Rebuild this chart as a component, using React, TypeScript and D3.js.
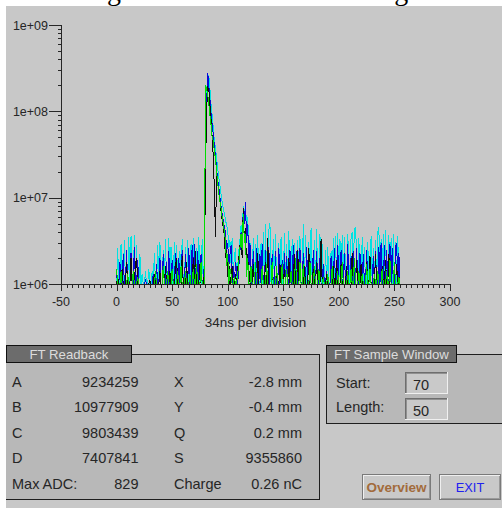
import React, { useEffect, useRef } from 'react';
import * as d3 from 'd3';

// ADC traces, one value per sample (0..255), in units of 1e6
const cyanTrace = [
  0.7, 2.6, 0.7, 0.8, 2.9, 1.0, 0.7, 3.2, 0.7, 2.4, 0.8, 3.5, 0.7, 3.6, 0.8, 0.7,
  3.7, 0.7, 2.8, 0.8, 0.7, 2.2, 0.6, 1.3, 0.6, 0.7, 1.4, 0.6, 0.7, 1.5, 0.6, 0.7,
  1.4, 0.6, 2.3, 0.7, 0.8, 2.8, 0.7, 3.1, 0.7, 0.8, 2.5, 0.7, 3.3, 0.8, 0.7, 3.4,
  0.7, 2.7, 0.7, 0.8, 3.1, 0.7, 2.8, 0.8, 0.7, 2.4, 0.7, 3.3, 0.8, 0.7, 2.7, 0.7,
  3.2, 0.8, 0.7, 2.9, 0.7, 3.4, 0.8, 0.7, 2.6, 0.7, 3.5, 0.8, 0.7, 3.3, 0.8, 2.0,
  50, 170, 250, 260, 180, 120, 90, 65, 45, 38, 28, 22, 17, 14, 11, 9,
  7.5, 6.5, 5.5, 4.8, 4.2, 2.6, 3.2, 1.7, 3.4, 1.4, 2.0, 2.6, 1.1, 1.6, 2.4, 3.2,
  4.8, 3.5, 8.0, 6.0, 8.7, 4.5, 6.0, 2.5,
  3.2, 0.8, 0.7, 3.4, 0.8, 2.9, 0.7, 3.7, 0.8, 0.7, 3.0, 0.7, 4.0, 0.8, 5.0, 0.8,
  0.7, 4.2, 5.1, 0.8, 0.7, 3.3, 0.7, 3.8, 0.8, 0.7, 3.0, 0.7, 3.5, 0.8, 0.7, 3.9,
  0.8, 2.9, 0.7, 4.1, 0.8, 0.7, 3.3, 0.7, 3.0, 0.8, 0.7, 3.2, 0.7, 3.6, 0.8, 0.7,
  5.0, 0.8, 3.7, 0.7, 0.8, 3.1, 0.7, 4.5, 0.8, 0.7, 3.2, 0.7, 4.3, 0.8, 0.7, 3.8,
  0.7, 2.9, 0.7, 0.8, 2.5, 0.7, 2.7, 0.7, 0.8, 2.4, 0.7, 3.4, 0.8, 3.6, 0.7, 3.9,
  0.8, 3.3, 0.7, 3.7, 0.8, 3.5, 1.5, 0.8, 3.8, 1.8, 0.8, 3.6, 4.0, 1.6, 4.2, 4.6,
  2.2, 0.8, 3.4, 0.7, 0.8, 3.5, 0.7, 2.7, 0.8, 0.7, 3.1, 0.8, 0.7, 3.6, 0.7, 2.6,
  0.8, 3.2, 0.7, 3.9, 4.6, 0.8, 3.3, 0.7, 3.8, 0.8, 4.2, 0.8, 0.7, 3.7, 0.8, 3.4,
  0.7, 3.8, 0.8, 3.1, 0.7, 3.6, 0.8, 0.7,
];

const blueTrace = [
  1.3, 0.7, 0.6, 1.8, 0.8, 0.6, 2.2, 0.6, 0.7, 2.5, 0.7, 0.6, 1.0, 2.3, 0.9, 0.6,
  2.7, 0.8, 0.6, 1.9, 0.6, 0.7, 0.6, 0.9, 0.5, 0.6, 1.1, 0.7, 0.6, 0.6, 0.8, 0.6,
  0.6, 1.3, 0.7, 0.6, 1.7, 0.8, 0.6, 2.0, 0.6, 0.7, 2.2, 0.8, 0.6, 1.8, 0.6, 2.4,
  0.9, 0.6, 1.9, 0.7, 0.6, 2.3, 0.8, 0.6, 2.0, 0.6, 0.9, 2.5, 0.7, 0.6, 2.2, 0.8,
  0.6, 2.6, 0.9, 0.6, 2.8, 0.6, 2.9, 0.8, 0.6, 2.4, 0.7, 0.6, 2.2, 0.9, 0.8, 1.8,
  30, 120, 280, 200, 140, 95, 70, 55, 40, 30, 22, 16, 13, 10, 8, 6.5,
  5.5, 4.5, 4.0, 2.5, 3.0, 1.6, 2.2, 2.8, 1.0, 1.6, 0.8, 1.8, 1.4, 0.7, 1.6, 2.4,
  4.0, 2.6, 7.5, 5.0, 9.0, 3.0, 5.0, 1.5,
  3.0, 1.0, 0.6, 2.4, 0.8, 0.6, 2.6, 0.7, 0.6, 2.2, 0.6, 2.9, 0.8, 0.6, 2.5, 0.6,
  0.7, 2.7, 0.9, 0.6, 2.2, 0.7, 0.6, 2.4, 0.8, 0.6, 2.6, 0.8, 0.6, 1.9, 0.6, 2.3,
  0.6, 2.1, 0.6, 0.8, 2.5, 0.8, 0.6, 2.8, 0.8, 0.6, 2.4, 0.7, 0.6, 2.6, 0.8, 0.6,
  2.3, 0.6, 0.6, 2.7, 0.9, 0.6, 1.9, 0.8, 0.6, 2.5, 0.6, 0.7, 2.4, 0.8, 0.6, 2.0,
  0.6, 0.7, 1.7, 0.6, 0.6, 1.4, 0.7, 0.5, 0.6, 2.1, 0.8, 0.6, 2.6, 0.7, 0.6, 2.8,
  0.9, 0.6, 2.5, 0.8, 0.6, 2.3, 0.7, 0.6, 2.9, 0.8, 0.6, 2.1, 0.6, 2.4, 0.9, 0.6,
  2.6, 0.6, 0.7, 2.3, 0.6, 0.9, 2.2, 0.6, 0.6, 2.5, 0.8, 0.6, 2.0, 0.6, 0.8, 2.1,
  0.6, 2.4, 0.8, 0.6, 2.7, 0.6, 3.0, 0.9, 0.6, 2.8, 0.6, 2.5, 0.8, 0.6, 2.9, 0.6,
  2.6, 0.8, 0.6, 2.7, 3.0, 0.6, 2.3, 0.9,
];

const blackTrace = [
  0.6, 1.2, 0.5, 0.7, 0.6, 1.5, 0.6, 0.5, 0.7, 1.8, 0.6, 0.5, 0.8, 2.0, 0.6, 0.5,
  0.7, 1.7, 2.0, 0.5, 0.6, 0.8, 0.5, 0.7, 0.5, 0.6, 0.5, 0.7, 0.8, 0.5, 1.1, 0.6,
  0.5, 0.6, 1.3, 0.7, 0.6, 0.5, 0.6, 1.4, 0.5, 0.7, 0.8, 0.6, 1.6, 0.6, 0.5, 0.7,
  1.4, 0.5, 0.6, 0.8, 0.6, 1.6, 2.0, 0.6, 0.5, 0.7, 0.7, 2.1, 0.6, 0.5, 0.8, 1.8,
  0.6, 0.5, 0.9, 0.6, 0.6, 2.0, 0.6, 2.4, 0.7, 0.5, 0.6, 1.7, 0.8, 0.5, 0.6, 1.3,
  20, 100, 190, 180, 120, 80, 50, 30, 12, 3.5, 20, 15, 11, 9, 7, 5.5,
  4.5, 3.6, 2.0, 2.5, 1.2, 1.8, 0.8, 1.2, 1.6, 0.7, 0.9, 1.3, 0.6, 1.5, 2.0, 2.8,
  3.5, 2.0, 7.5, 3.0, 4.5, 1.4, 2.2, 0.8,
  1.4, 0.6, 0.7, 1.7, 0.8, 0.5, 0.6, 2.3, 0.8, 0.6, 0.6, 1.5, 0.5, 0.7, 1.8, 0.8,
  3.4, 0.6, 0.5, 0.7, 1.6, 0.8, 0.5, 0.6, 1.4, 0.6, 0.7, 1.7, 0.8, 0.5, 0.6, 1.5,
  0.8, 0.5, 0.6, 2.0, 0.9, 0.7, 0.5, 0.8, 2.2, 0.6, 0.5, 2.5, 0.8, 0.6, 0.9, 0.5,
  0.7, 1.6, 0.5, 0.8, 0.6, 2.6, 0.8, 0.5, 0.6, 1.5, 0.6, 0.7, 1.8, 0.8, 0.5, 0.8,
  3.3, 0.9, 0.7, 0.5, 0.6, 1.3, 0.6, 0.5, 0.8, 0.6, 0.7, 1.6, 0.5, 0.8, 1.9, 0.6,
  0.5, 0.8, 1.7, 0.6, 0.8, 0.5, 0.7, 1.6, 0.6, 0.8, 0.5, 0.9, 2.3, 0.7, 0.6, 0.8,
  1.9, 0.8, 0.5, 0.9, 1.7, 0.6, 0.5, 0.6, 0.8, 1.8, 0.7, 0.5, 2.1, 0.8, 0.6, 0.8,
  0.5, 2.2, 0.7, 0.6, 0.9, 0.5, 0.8, 1.6, 0.6, 0.8, 1.9, 0.7, 0.5, 2.2, 0.9, 0.6,
  0.8, 0.6, 1.0, 0.7, 1.7, 0.8, 0.6, 1.2,
];

const greenTrace = [
  1.5, 0.6, 0.5, 0.5, 1.4, 0.7, 0.6, 0.5, 0.8, 0.5, 1.3, 0.6, 0.5, 0.6, 0.9, 1.4,
  0.6, 0.5, 0.5, 1.2, 0.7, 0.6, 0.5, 0.6, 0.5, 0.9, 0.6, 0.5, 0.6, 0.5, 0.9, 0.6,
  0.6, 0.5, 0.7, 1.4, 0.5, 0.6, 0.7, 0.5, 0.6, 1.0, 1.6, 0.6, 0.5, 0.6, 1.4, 0.7,
  0.6, 0.6, 1.5, 0.7, 0.5, 0.6, 0.6, 1.4, 0.6, 0.5, 1.6, 0.7, 0.5, 0.6, 1.4, 0.8,
  0.6, 0.6, 1.3, 0.5, 0.7, 1.5, 0.6, 0.5, 1.7, 0.8, 0.5, 0.6, 1.8, 0.7, 0.7, 0.6,
  200, 180, 160, 120, 90, 70, 50, 45, 35, 28, 20, 15, 11, 9, 7.5, 6,
  5, 4, 3.2, 1.6, 2.2, 1.0, 1.5, 1.3, 0.7, 0.9, 1.2, 0.6, 0.8, 1.3, 1.8, 2.6,
  3.8, 2.5, 6.5, 3.0, 3.8, 1.2, 2.0, 0.7,
  0.6, 1.6, 0.6, 0.5, 0.8, 1.8, 0.6, 0.5, 0.7, 0.6, 0.6, 1.6, 0.8, 0.5, 0.6, 1.7,
  0.8, 0.5, 0.6, 0.6, 1.8, 0.7, 0.5, 0.6, 1.6, 0.8, 0.5, 0.6, 0.6, 1.7, 0.7, 0.5,
  0.6, 1.5, 0.8, 0.5, 0.7, 1.4, 0.6, 0.6, 0.9, 2.0, 0.7, 0.5, 0.8, 1.8, 0.6, 0.5,
  1.7, 0.7, 0.5, 0.9, 0.6, 0.6, 1.8, 0.8, 0.5, 0.6, 1.6, 0.8, 0.5, 0.6, 1.5, 0.7,
  0.6, 0.6, 1.2, 0.5, 0.6, 0.5, 1.3, 0.6, 0.5, 0.8, 1.6, 0.7, 0.5, 0.6, 0.6, 1.4,
  0.8, 0.5, 0.7, 1.8, 0.9, 0.6, 0.5, 0.8, 1.4, 0.6, 0.7, 1.5, 0.5, 0.8, 2.0, 0.9,
  0.6, 0.6, 1.4, 0.5, 0.7, 1.3, 0.6, 0.5, 0.8, 1.7, 0.6, 0.5, 1.5, 0.7, 0.6, 0.6,
  1.3, 0.6, 0.6, 1.4, 0.8, 0.5, 0.7, 1.5, 0.9, 0.6, 0.6, 1.4, 0.5, 0.8, 1.9, 0.9,
  0.6, 0.7, 1.8, 0.9, 0.6, 0.6, 1.2, 0.6,
];

const xTicks = [-50, 0, 50, 100, 150, 200, 250, 300];
const yTicks = [1e6, 1e7, 1e8, 1e9];
const xLabel = '34ns per division';

const readbackNames = ['A', 'B', 'C', 'D', 'Max ADC:'];
const readbackValues = ['9234259', '10977909', '9803439', '7407841', '829'];
const positionNames = ['X', 'Y', 'Q', 'S', 'Charge'];
const positionValues = ['-2.8 mm', '-0.4 mm', '0.2 mm', '9355860', '0.26 nC'];
const windowNames = ['Start:', 'Length:'];
const windowValues = ['70', '50'];

const App = () => {
  const svgRef = useRef(null);

  useEffect(() => {
    const width = 502;
    const height = 508;
    const sans = "'Liberation Sans', Arial, sans-serif";
    const ink = '#262626';
    const svg = d3.select(svgRef.current);
    svg.selectAll('*').remove();

    // page bits: cut-off caption above the panel, then the grey panel
    svg.append('rect').attr('width', width).attr('height', height).attr('fill', '#fff');
    svg.append('text')
      .attr('x', 12).attr('y', -0.5)
      .attr('font-family', "'Liberation Serif', serif")
      .attr('font-size', 28)
      .text('ical charge of FT was shown as Figure 4.');
    svg.append('rect')
      .attr('x', 6).attr('y', 6).attr('width', width - 6).attr('height', height - 6)
      .attr('fill', '#c8c8c8');

    const x = d3.scaleLinear().domain([-50, 300]).range([61, 450]);
    const y = d3.scaleLog().domain([1e6, 1e9]).range([284, 25]).clamp(true);

    // traces
    const line = d3.line<number>()
      .x((d, i) => x(i))
      .y((d) => y(d * 1e6));
    const traces: [number[], string][] = [
      [cyanTrace, '#00e2e2'],
      [blueTrace, '#0808d8'],
      [blackTrace, '#101010'],
      [greenTrace, '#00dc00'],
    ];
    traces.forEach(([vals, color]) => {
      svg.append('path')
        .attr('d', line(vals))
        .attr('fill', 'none')
        .attr('stroke', color)
        .attr('stroke-width', 1)
        .attr('shape-rendering', 'crispEdges');
    });

    // axes
    const ax = svg.append('g').attr('stroke', ink).attr('shape-rendering', 'crispEdges');
    ax.append('line').attr('x1', 61.5).attr('x2', 61.5).attr('y1', 25).attr('y2', 284.5);
    ax.append('line').attr('x1', 61).attr('x2', 450.5).attr('y1', 284.5).attr('y2', 284.5);

    d3.range(-50, 301, 5).forEach((v) => {
      const major = v % 50 === 0;
      ax.append('line')
        .attr('x1', Math.round(x(v)) + 0.5).attr('x2', Math.round(x(v)) + 0.5)
        .attr('y1', 284).attr('y2', major ? 291 : 288);
    });
    yTicks.forEach((d, k) => {
      ax.append('line')
        .attr('x1', 49).attr('x2', 61).attr('y1', Math.round(y(d)) + 0.5).attr('y2', Math.round(y(d)) + 0.5);
      if (k < yTicks.length - 1) {
        d3.range(2, 10).forEach((m) => {
          const yy = Math.round(y(d * m)) + 0.5;
          ax.append('line').attr('x1', 57.5).attr('x2', 61).attr('y1', yy).attr('y2', yy);
        });
      }
    });

    svg.append('g').selectAll('text').data(xTicks).enter().append('text')
      .attr('x', (d) => x(d)).attr('y', 305.5)
      .attr('text-anchor', 'middle')
      .attr('font-family', sans).attr('font-size', 12.5).attr('fill', ink)
      .text((d) => d);
    svg.append('g').selectAll('text').data(yTicks).enter().append('text')
      .attr('x', 48).attr('y', (d) => y(d) + 4.5)
      .attr('text-anchor', 'end')
      .attr('font-family', sans).attr('font-size', 12.5).attr('fill', ink)
      .text((d) => '1e+0' + Math.round(Math.log10(d)));
    svg.append('text')
      .attr('x', (x.range()[0] + x.range()[1]) / 2).attr('y', 327)
      .attr('text-anchor', 'middle')
      .attr('font-family', sans).attr('font-size', 13.5).attr('fill', ink)
      .text(xLabel);

    // framed group box with a dark title tab
    const groupBox = (x0, x1, y1, tabW, title, rightEdge) => {
      const g = svg.append('g').attr('shape-rendering', 'crispEdges');
      g.append('rect').attr('x', x0).attr('y', 354.5).attr('width', x1 - x0).attr('height', y1 - 354.5)
        .attr('fill', '#b8b8b8');
      const edge = g.append('g').attr('stroke', '#1e1e1e');
      edge.append('line').attr('x1', x0).attr('x2', x1).attr('y1', 354.5).attr('y2', 354.5);
      edge.append('line').attr('x1', x0).attr('x2', x1).attr('y1', y1).attr('y2', y1);
      if (rightEdge) edge.append('line').attr('x1', x1).attr('x2', x1).attr('y1', 354.5).attr('y2', y1);
      if (x0 > 6) edge.append('line').attr('x1', x0 + 0.5).attr('x2', x0 + 0.5).attr('y1', 354.5).attr('y2', y1);
      g.append('rect').attr('x', x0 + 0.5).attr('y', 345.5).attr('width', tabW).attr('height', 17)
        .attr('fill', '#6c6c6c').attr('stroke', '#111');
      svg.append('text')
        .attr('x', x0 + 0.5 + tabW / 2).attr('y', 358.5)
        .attr('text-anchor', 'middle')
        .attr('font-family', sans).attr('font-size', 13.2).attr('fill', '#dcdcdc')
        .text(title);
    };

    groupBox(6, 319.5, 499.5, 125, 'FT Readback', true);
    groupBox(326, 502, 423.5, 130, 'FT Sample Window', false);

    const txt = (tx, ty, s, anchor = 'start', fill = ink, size = 14.5, weight = 'normal') =>
      svg.append('text')
        .attr('x', tx).attr('y', ty)
        .attr('text-anchor', anchor)
        .attr('font-family', sans).attr('font-size', size).attr('font-weight', weight)
        .attr('fill', fill)
        .text(s);

    readbackNames.forEach((n, i) => {
      const ty = 387 + i * 25.4;
      txt(12, ty, n);
      txt(138.5, ty, readbackValues[i], 'end');
      txt(174, ty, positionNames[i]);
      txt(302, ty, positionValues[i], 'end');
    });

    // sample window inputs
    windowNames.forEach((n, i) => {
      const top = 372 + i * 25.5;
      txt(336, 388 + i * 24, n);
      const f = svg.append('g').attr('shape-rendering', 'crispEdges');
      f.append('rect').attr('x', 405).attr('y', top).attr('width', 43).attr('height', 22).attr('fill', '#c9c9c9');
      f.append('path').attr('d', `M405.5,${top + 22} V${top + 0.5} H448`).attr('fill', 'none').attr('stroke', '#6e6e6e').attr('stroke-width', 1);
      f.append('path').attr('d', `M406.5,${top + 21} V${top + 1.5} H447`).attr('fill', 'none').attr('stroke', '#909090').attr('stroke-width', 1);
      f.append('path').attr('d', `M405,${top + 21.5} H447.5 V${top}`).attr('fill', 'none').attr('stroke', '#f0f0f0').attr('stroke-width', 1);
      txt(413, top + 18, windowValues[i]);
    });

    // buttons
    const button = (bx, bw, label, color, weight, size) => {
      const b = svg.append('g').attr('shape-rendering', 'crispEdges');
      b.append('rect').attr('x', bx + 0.5).attr('y', 474.5).attr('width', bw).attr('height', 25)
        .attr('fill', '#c9c9c9').attr('stroke', '#7a7a7a');
      b.append('path').attr('d', `M${bx + 1.5},${498.5} V475.5 H${bx + bw - 0.5}`).attr('fill', 'none').attr('stroke', '#efefef');
      b.append('path').attr('d', `M${bx + 1.5},${498.5} H${bx + bw - 0.5} V475.5`).attr('fill', 'none').attr('stroke', '#9a9a9a');
      txt(bx + bw / 2 + 0.5, 492, label, 'middle', color, size, weight);
    };
    button(362, 68, 'Overview', '#a26b3c', 'bold', 13.5);
    button(439, 61, 'EXIT', '#2020f0', 'normal', 12.8);
  }, []);

  return (
    <div style={{ position: 'fixed', left: 0, top: 0, width: 502, height: 508 }}>
      <svg ref={svgRef} width={502} height={508}></svg>
    </div>
  );
};

export default App;
